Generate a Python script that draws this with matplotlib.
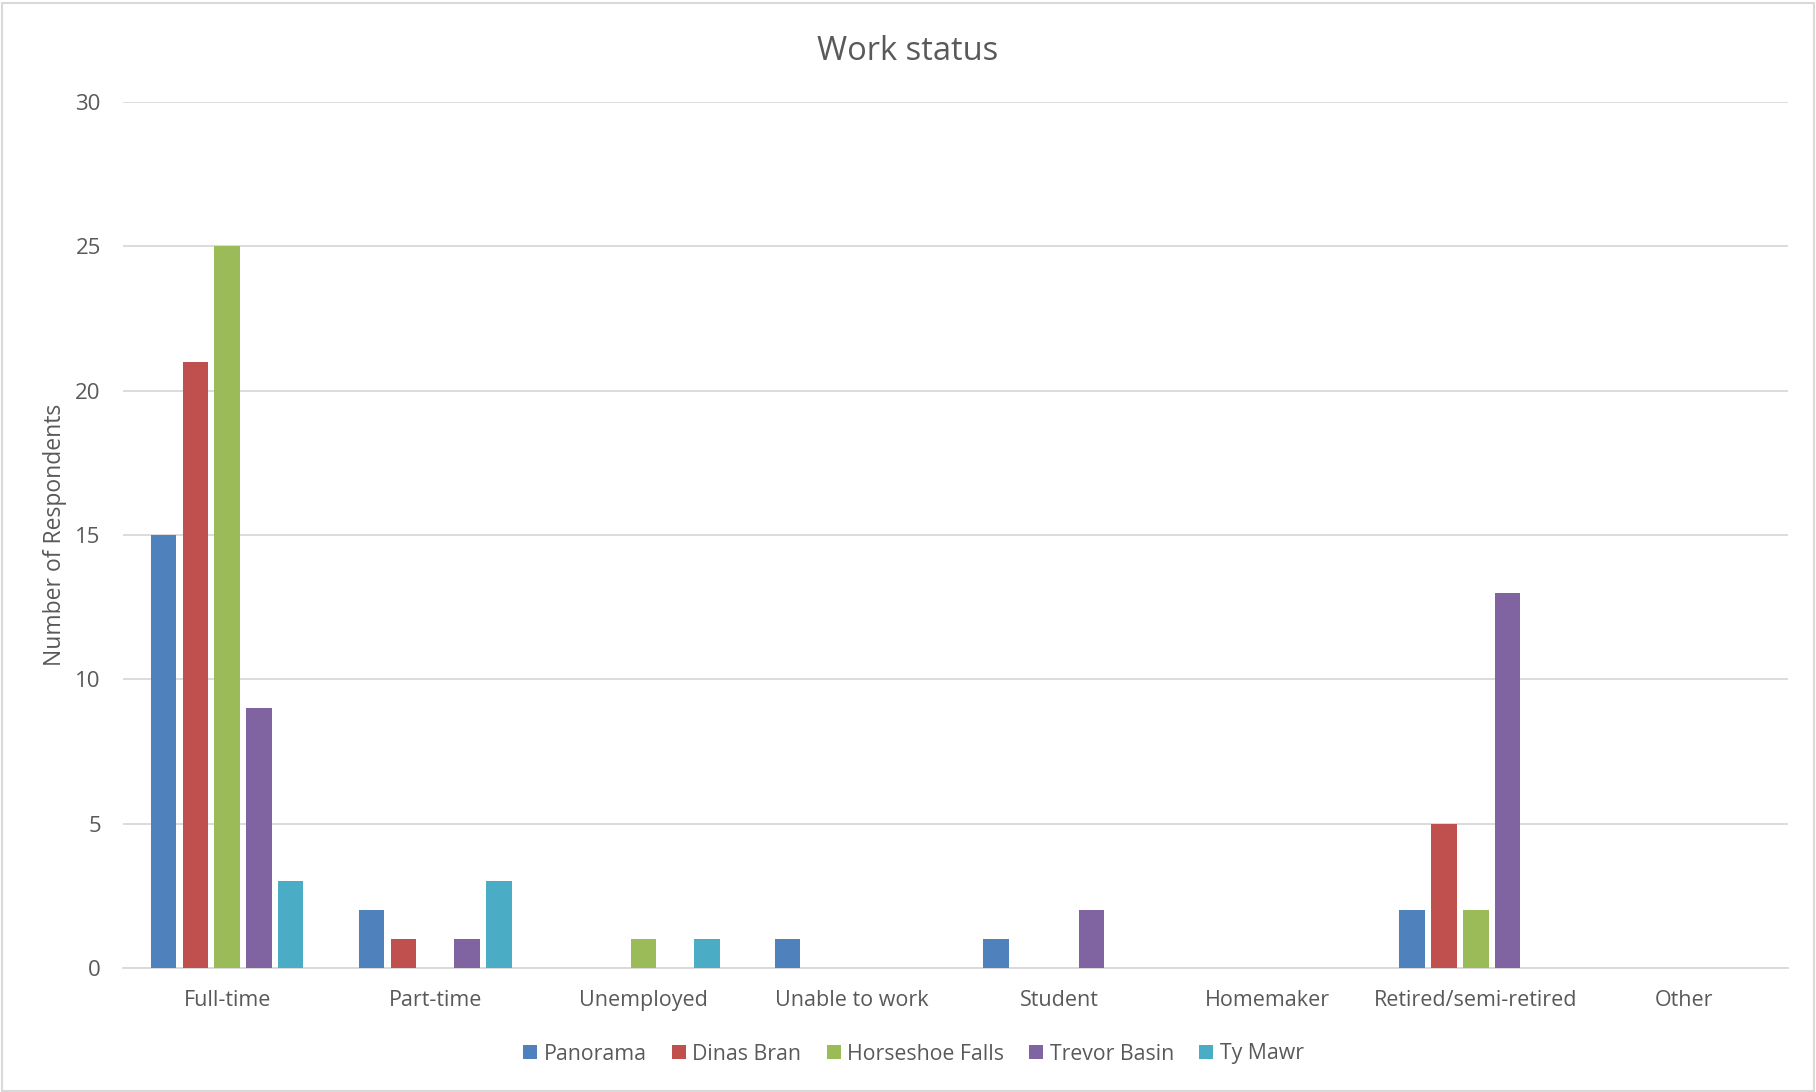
import matplotlib
matplotlib.use("Agg")
import matplotlib.pyplot as plt
import numpy as np
from matplotlib.patches import Rectangle

categories = ["Full-time", "Part-time", "Unemployed", "Unable to work", "Student",
              "Homemaker", "Retired/semi-retired", "Other"]
series_names = ["Panorama", "Dinas Bran", "Horseshoe Falls", "Trevor Basin", "Ty Mawr"]
panorama = [15, 2, 0, 1, 1, 0, 2, 0]
dinas_bran = [21, 1, 0, 0, 0, 0, 5, 0]
horseshoe_falls = [25, 0, 1, 0, 0, 0, 2, 0]
trevor_basin = [9, 1, 0, 0, 2, 0, 13, 0]
ty_mawr = [3, 3, 1, 0, 0, 0, 0, 0]
series_values = [panorama, dinas_bran, horseshoe_falls, trevor_basin, ty_mawr]
colors = ["#4f81bd", "#c0504d", "#9bbb59", "#8064a2", "#4bacc6"]
yticks = [0, 5, 10, 15, 20, 25, 30]

plt.rcParams['font.family'] = ['Open Sans', 'DejaVu Sans']
text_color = "#595959"

fig = plt.figure(figsize=(18.16, 10.92), dpi=100)
ax = fig.add_axes([123/1816, 1 - 968/1092, (1788-123)/1816, (968-102)/1092])

x = np.arange(len(categories))
slot = 0.153
bw = 0.122
for i, (name, vals, c) in enumerate(zip(series_names, series_values, colors)):
    ax.bar(x + (i - 2) * slot, vals, width=bw, color=c, label=name, zorder=3)

ax.set_xlim(-0.5, len(categories) - 0.5)
ax.set_ylim(0, 30)
ax.set_yticks(yticks)
ax.set_yticklabels([str(t) for t in yticks])
ax.set_xticks(x)
ax.set_xticklabels(categories)
ax.grid(axis='y', color='#d9d9d9', linewidth=1.3, zorder=0)
for s in ['top', 'right', 'left']:
    ax.spines[s].set_visible(False)
ax.spines['bottom'].set_color('#d9d9d9')
ax.spines['bottom'].set_linewidth(1.3)
ax.tick_params(axis='both', length=0, colors=text_color, labelsize=15.5)
ax.tick_params(axis='y', labelsize=16)
ax.tick_params(axis='x', pad=16)
ax.tick_params(axis='y', pad=16)
ax.set_ylabel("Number of Respondents", fontsize=16.5, color=text_color, labelpad=6)
fig.text(0.5, 1 - 51/1092, "Work status", ha='center', va='center', fontsize=23.5, color=text_color)

leg = fig.legend(loc='center', bbox_to_anchor=(0.503, 1 - 1054/1092), ncol=5, frameon=False,
                 fontsize=15.3, handlelength=0.65, handleheight=0.65, handletextpad=0.3,
                 columnspacing=1.2, labelcolor=text_color)

fig.patches.append(Rectangle((0.001, 0.001), 0.998, 0.996, transform=fig.transFigure,
                             fill=False, edgecolor='#d9d9d9', linewidth=1.5))
fig.savefig("out.png", dpi=100, facecolor='white')
